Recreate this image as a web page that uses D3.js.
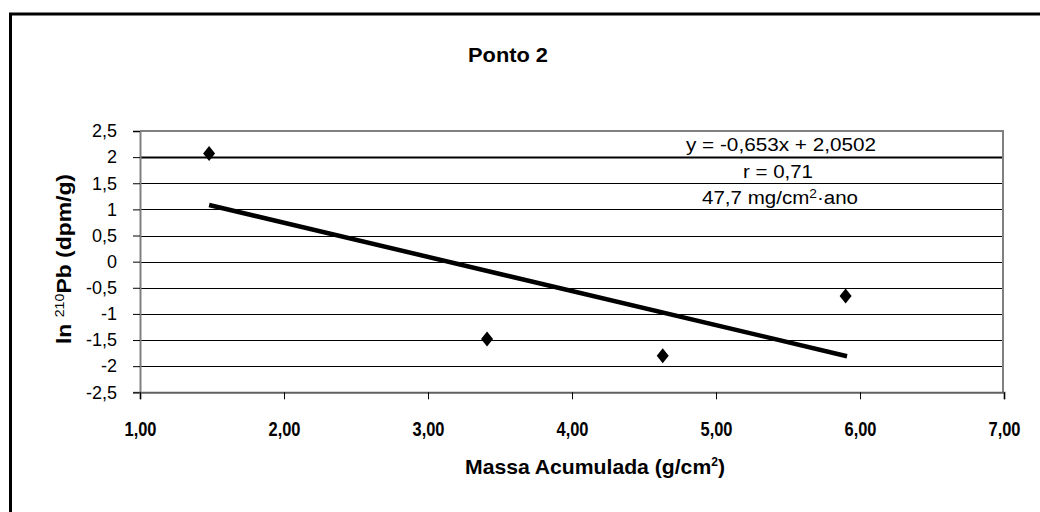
<!DOCTYPE html>
<html><head><meta charset="utf-8">
<script src="https://cdn.jsdelivr.net/npm/d3@7"></script>
<style>html,body{margin:0;padding:0;background:#fff;}svg{display:block;font-family:"Liberation Sans",Arial,sans-serif;}</style>
</head><body>
<script>
const massa = [1.48, 3.41, 4.63, 5.90];
const lnPb = [2.07, -1.48, -1.80, -0.655];
const slope = -0.653, intercept = 2.0502;
const trendRange = [1.48, 5.91];
const xTicks = [1, 2, 3, 4, 5, 6, 7];
const yTicks = [-2.5, -2, -1.5, -1, -0.5, 0, 0.5, 1, 1.5, 2, 2.5];
const title = "Ponto 2";
const annotations = ["y = -0,653x + 2,0502", "r = 0,71"];

const W = 1040, H = 512;
const svg = d3.select("body").append("svg").attr("width", W).attr("height", H);
svg.append("rect").attr("width", W).attr("height", H).attr("fill", "#fff");
// outer frame
svg.append("path").attr("d", `M10.5,${H+5} V14 H${W+5}`).attr("fill","none").attr("stroke","#000").attr("stroke-width",3);

const x = d3.scaleLinear().domain([1, 7]).range([140, 1004]);
const y = d3.scaleLinear().domain([-2.5, 2.5]).range([392.3, 131]);

// gridlines
svg.append("g").selectAll("line").data(yTicks.filter(v => v > -2.5 && v < 2.5)).join("line")
  .attr("x1", x(1)).attr("x2", x(7)).attr("y1", d => Math.round(y(d)) + 0.5).attr("y2", d => Math.round(y(d)) + 0.5)
  .attr("stroke", "#000").attr("stroke-width", d => d === 2 ? 2 : 1);

// plot border
svg.append("line").attr("x1", x(1)).attr("x2", x(7)).attr("y1", y(2.5)).attr("y2", y(2.5)).attr("stroke", "#808080").attr("stroke-width", 2);
svg.append("line").attr("x1", x(7)-1).attr("x2", x(7)-1).attr("y1", y(2.5)).attr("y2", y(-2.5)).attr("stroke", "#808080").attr("stroke-width", 2);

// y axis
const yAxis = d3.axisLeft(y).tickValues(yTicks).tickSize(7).tickPadding(16)
  .tickFormat(d => String(d).replace(".", ","));
const gy = svg.append("g").attr("transform", `translate(${x(1)},0)`).call(yAxis);
gy.select(".domain").attr("stroke", "#808080").attr("stroke-width", 2);
gy.selectAll(".tick line").attr("stroke", "#000");
gy.selectAll("text").attr("font-size", 18).attr("fill", "#000").attr("font-family", "Liberation Sans, Arial, sans-serif");

// x axis
const xAxis = d3.axisBottom(x).tickValues(xTicks).tickSize(7).tickPadding(22)
  .tickFormat(d => d3.format(".2f")(d).replace(".", ","));
const gx = svg.append("g").attr("transform", `translate(0,${y(-2.5)})`).call(xAxis);
gx.select(".domain").attr("stroke", "#606060").attr("stroke-width", 2);
gx.selectAll(".tick line").attr("stroke", "#000");
gx.selectAll("text").attr("font-size", 21).attr("font-weight", "bold").attr("fill", "#000").attr("font-family", "Liberation Sans, Arial, sans-serif")
  .attr("textLength", 32).attr("lengthAdjust", "spacingAndGlyphs");

// trend line
svg.append("line")
  .attr("x1", x(trendRange[0])).attr("y1", y(slope * trendRange[0] + intercept))
  .attr("x2", x(trendRange[1])).attr("y2", y(slope * trendRange[1] + intercept))
  .attr("stroke", "#000").attr("stroke-width", 4.5);

// markers
svg.append("g").selectAll("path").data(massa.map((m, i) => [m, lnPb[i]])).join("path")
  .attr("transform", d => `translate(${x(d[0])},${y(d[1])})`)
  .attr("d", "M0,-7.5 L6,0 L0,7.5 L-6,0 Z").attr("fill", "#000");

// title
svg.append("text").attr("x", 508).attr("y", 62).attr("text-anchor", "middle")
  .attr("font-size", 21).attr("font-weight", "bold")
  .attr("textLength", 80).attr("lengthAdjust", "spacingAndGlyphs").text(title);

// annotations
svg.append("text").attr("x", 781).attr("y", 151).attr("text-anchor", "middle").attr("font-size", 18)
  .attr("textLength", 190).attr("lengthAdjust", "spacingAndGlyphs").text(annotations[0]);
svg.append("text").attr("x", 778).attr("y", 178).attr("text-anchor", "middle").attr("font-size", 18)
  .attr("textLength", 70).attr("lengthAdjust", "spacingAndGlyphs").text(annotations[1]);
const t3 = svg.append("text").attr("x", 780).attr("y", 204).attr("text-anchor", "middle").attr("font-size", 18)
  .attr("textLength", 156).attr("lengthAdjust", "spacingAndGlyphs");
t3.append("tspan").text("47,7 mg/cm");
t3.append("tspan").attr("dy", -6).attr("font-size", 12).text("2");
t3.append("tspan").attr("dy", 6).text("·ano");

// x axis title
const xt = svg.append("text").attr("x", 595).attr("y", 474).attr("text-anchor", "middle")
  .attr("font-size", 21).attr("font-weight", "bold")
  .attr("textLength", 260).attr("lengthAdjust", "spacingAndGlyphs");
xt.append("tspan").text("Massa Acumulada (g/cm");
xt.append("tspan").attr("dy", -8).attr("font-size", 12).text("2");
xt.append("tspan").attr("dy", 8).text(")");

// y axis title
const yt = svg.append("text").attr("transform", "translate(71,259) rotate(-90)").attr("text-anchor", "middle")
  .attr("font-size", 21).attr("font-weight", "bold")
  .attr("textLength", 170).attr("lengthAdjust", "spacingAndGlyphs");
yt.append("tspan").text("ln ");
yt.append("tspan").attr("dy", -7).attr("font-size", 13).attr("font-weight", "normal").text("210");
yt.append("tspan").attr("dy", 7).text("Pb (dpm/g)");
</script>
</body></html>
